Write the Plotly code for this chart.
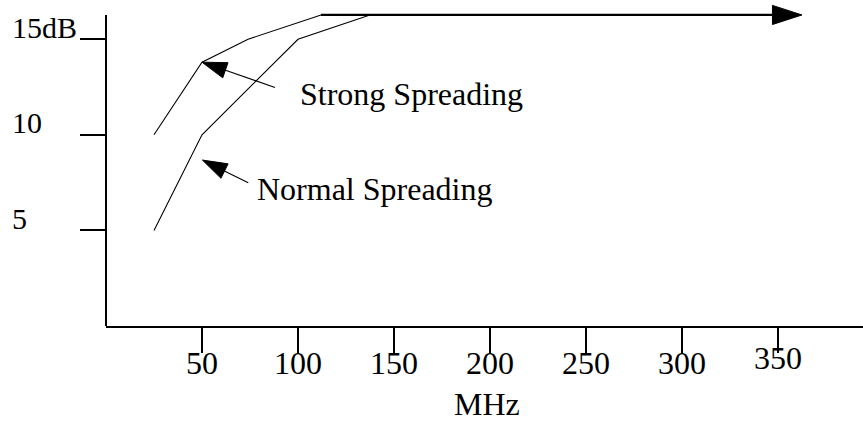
import plotly.graph_objects as go

# ---- data ----
freq_strong = [25, 50, 74, 112]
db_strong = [10, 13.8, 15, 16.27]
freq_normal = [25, 50, 100, 137.5]
db_normal = [5, 10, 15, 16.27]
plateau_freq = [112, 362.5]
plateau_db = [16.27, 16.27]
x_tickvals = [50, 100, 150, 200, 250, 300, 350]
x_ticktext = ["50", "100", "150", "200", "250", "300", "350"]
y_tickvals = [5, 10, 15]
y_ticktext = ["5", "10", "15dB"]
labels = ["Strong Spreading", "Normal Spreading"]

FONT = "Liberation Serif"
BLACK = "#000000"

fig = go.Figure()

fig.add_trace(go.Scatter(x=freq_strong, y=db_strong, mode="lines",
                         line=dict(color=BLACK, width=1.1), hoverinfo="skip"))
fig.add_trace(go.Scatter(x=freq_normal, y=db_normal, mode="lines",
                         line=dict(color=BLACK, width=1.1), hoverinfo="skip"))
fig.add_trace(go.Scatter(x=plateau_freq, y=plateau_db, mode="lines+markers",
                         line=dict(color=BLACK, width=2.2),
                         marker=dict(symbol=["circle", "arrow"], size=[0, 31],
                                     angleref="previous", color=BLACK, opacity=1,
                                     line=dict(width=1, color=BLACK)),
                         cliponaxis=False, hoverinfo="skip"))

# pointer arrows from labels to curves
pointers = [
    ((88.0, 12.48), (freq_strong[1], db_strong[1])),
    ((74.1, 7.49), (50.2, 8.68)),
]
for (tx, ty), (hx, hy) in pointers:
    fig.add_trace(go.Scatter(x=[tx, hx], y=[ty, hy], mode="lines+markers",
                             line=dict(color=BLACK, width=1.1),
                             marker=dict(symbol=["circle", "arrow"], size=[0, 26],
                                         angleref="previous", color=BLACK, opacity=1,
                                         line=dict(width=1, color=BLACK)),
                             cliponaxis=False, hoverinfo="skip"))

annotations = []
# label texts
annotations.append(dict(x=100.2, y=12.12, xref="x", yref="y", text=labels[0],
                        showarrow=False, xanchor="left", yanchor="middle",
                        font=dict(family=FONT, size=32, color=BLACK)))
annotations.append(dict(x=77.6, y=7.15, xref="x", yref="y", text=labels[1],
                        showarrow=False, xanchor="left", yanchor="middle",
                        font=dict(family=FONT, size=32, color=BLACK)))
# y tick labels (left aligned, sitting on the tick)
for v, t in zip(y_tickvals, y_ticktext):
    annotations.append(dict(x=-0.1268, y=v, xref="paper", yref="y", text=t,
                            showarrow=False, xanchor="left", yanchor="middle",
                            yshift=12,
                            font=dict(family=FONT, size=30, color=BLACK)))
# raised 350 label
annotations.append(dict(x=x_tickvals[-1], y=0, xref="x", yref="paper",
                        text=x_ticktext[-1], showarrow=False,
                        xanchor="center", yanchor="middle", yshift=-32,
                        font=dict(family=FONT, size=32, color=BLACK)))
# axis title
annotations.append(dict(x=198.3, y=0, xref="x", yref="paper", text="MHz",
                        showarrow=False, xanchor="center", yanchor="middle",
                        yshift=-78, font=dict(family=FONT, size=32, color=BLACK)))

shown_ticktext = [t if v != x_tickvals[-1] else "" for v, t in zip(x_tickvals, x_ticktext)]

fig.update_layout(
    width=863, height=421,
    margin=dict(l=106, r=0, t=1, b=95),
    paper_bgcolor="white", plot_bgcolor="white",
    showlegend=False, hovermode=False,
    font=dict(family=FONT, color=BLACK),
    xaxis=dict(range=[0, 394.3], showgrid=False, zeroline=False,
               showline=True, linecolor=BLACK, linewidth=2,
               ticks="outside", ticklen=25, tickwidth=2, tickcolor=BLACK,
               tickvals=x_tickvals, ticktext=shown_ticktext,
               ticklabelstandoff=-17,
               tickfont=dict(family=FONT, size=32, color=BLACK)),
    yaxis=dict(range=[0, 17], showgrid=False, zeroline=False, showline=False,
               ticks="outside", ticklen=25, tickwidth=2, tickcolor=BLACK,
               tickvals=y_tickvals, showticklabels=False),
    annotations=annotations,
    shapes=[dict(type="line", xref="paper", yref="y", x0=0, x1=0,
                 y0=0, y1=plateau_db[0], line=dict(color=BLACK, width=2))],
)

fig.write_html("out.html",
               config={"displayModeBar": False, "staticPlot": True},
               post_script="document.body.style.margin='0';document.body.style.overflow='hidden';")
